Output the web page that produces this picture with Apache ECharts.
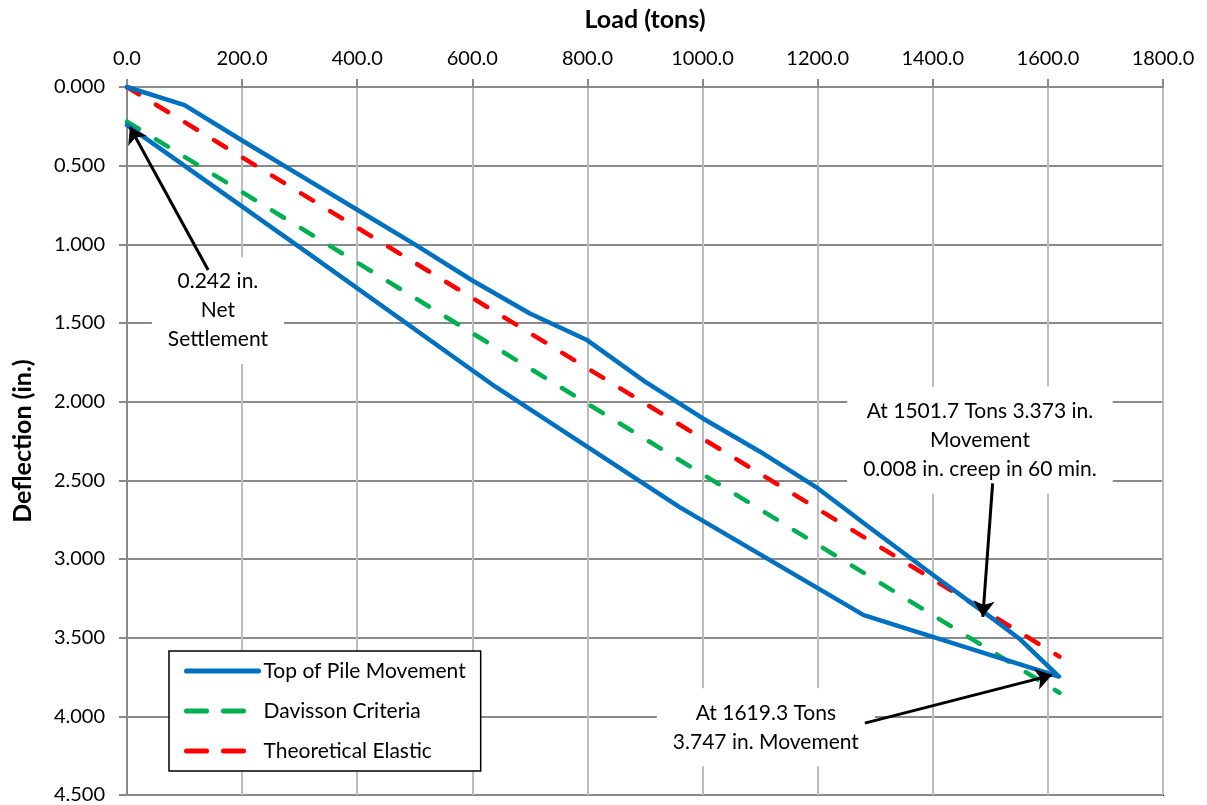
<!DOCTYPE html>
<html>
<head>
<meta charset="utf-8">
<script src="https://cdn.jsdelivr.net/npm/echarts@6/dist/echarts.min.js"></script>
<style>
  html, body { margin: 0; padding: 0; background: #fff; }
  #main { width: 1207px; height: 805px; }
</style>
</head>
<body>
<div id="main"></div>
<script>
// load (tons), deflection (in.) - loading then unloading
const pileLoad = [0, 100, 200, 300, 400, 500, 600, 700, 800, 900, 1000, 1100, 1200, 1300, 1400, 1501.7, 1550, 1619.3, 1280, 960, 640, 320, 0];
const pileDefl = [0, 0.115, 0.34, 0.56, 0.78, 1.0, 1.23, 1.44, 1.61, 1.873, 2.105, 2.318, 2.55, 2.827, 3.1, 3.373, 3.505, 3.747, 3.357, 2.67, 1.905, 1.07, 0.242];

const davissonLoad = [0, 1620];
const davissonDefl = [0.22, 3.85];

const elasticLoad = [0, 1620];
const elasticDefl = [0, 3.62];

const seriesNames = ['Top of Pile Movement', 'Davisson Criteria', 'Theoretical Elastic'];

// annotation texts and where they sit (data coords)
const noteTexts = ['0.242 in.\nNet\nSettlement', 'At 1501.7 Tons 3.373 in.\nMovement\n0.008 in. creep in 60 min.', 'At 1619.3 Tons\n3.747 in. Movement'];
const notePos = [[158, 1.42], [1482, 2.245], [1110, 4.07]];
const arrowFrom = [[141, 1.163], [1504, 2.52], [1282, 4.043]];
const arrowTo = [[5, 0.254], [1487, 3.368], [1607, 3.738]];

const zip = (a, b) => a.map((v, i) => [v, b[i]]);

const font = 'Lato, "Open Sans", sans-serif';
const dashed = [14, 20];

const chart = echarts.init(document.getElementById('main'));

chart.setOption({
  animation: false,
  textStyle: { fontFamily: font },
  grid: {
    left: 127, top: 87, right: 44, bottom: 10,
    outerBoundsMode: 'none', containLabel: false,
    show: true, borderColor: '#000', borderWidth: 2, backgroundColor: 'transparent'
  },
  xAxis: {
    type: 'value', position: 'top',
    min: 0, max: 1800, interval: 200,
    name: 'Load (tons)', nameLocation: 'middle', nameGap: 55, nameMoveOverlap: false,
    nameTextStyle: { fontFamily: font, fontWeight: 'bold', fontSize: 25, color: '#000' },
    axisLine: { show: true, lineStyle: { color: '#8a8a8a', width: 2 } },
    axisTick: { show: true, length: 8, lineStyle: { color: '#8a8a8a', width: 2 } },
    axisLabel: { margin: 18, fontSize: 20, color: '#000', formatter: v => v.toFixed(1) },
    splitLine: { show: true, lineStyle: { color: '#bdbdbd', width: 2 } }
  },
  yAxis: {
    type: 'value', inverse: true,
    min: 0, max: 4.5, interval: 0.5,
    name: 'Deflection (in.)', nameLocation: 'middle', nameGap: 92, nameRotate: 90, nameMoveOverlap: false,
    nameTextStyle: { fontFamily: font, fontWeight: 'bold', fontSize: 25, color: '#000' },
    axisLine: { show: true, lineStyle: { color: '#8a8a8a', width: 2 } },
    axisTick: { show: true, length: 8, lineStyle: { color: '#8a8a8a', width: 2 } },
    axisLabel: { margin: 22, fontSize: 20, color: '#000', showMinLabel: true, showMaxLabel: true, formatter: v => v.toFixed(3) },
    splitLine: { show: true, lineStyle: { color: '#8a8a8a', width: 2 } }
  },
  legend: {
    orient: 'vertical', left: 169, top: 651,
    backgroundColor: '#fff', borderColor: '#000', borderWidth: 1.5,
    padding: [9, 15, 9, 15],
    itemWidth: 72, itemHeight: 14, itemGap: 18,
    itemStyle: { opacity: 0 },
    textStyle: { fontFamily: font, fontSize: 21, color: '#000', lineHeight: 22 },
    data: [
      { name: seriesNames[0], lineStyle: { width: 5, cap: 'round' } },
      { name: seriesNames[1], lineStyle: { width: 5, type: [20, 17], cap: 'round' } },
      { name: seriesNames[2], lineStyle: { width: 5, type: [20, 17], cap: 'round' } }
    ]
  },
  series: [
    {
      type: 'scatter', z: 1, silent: true, symbolSize: 0,
      itemStyle: { opacity: 1 },
      data: notePos.map((p, i) => ({ value: p, label: { formatter: noteTexts[i] } })),
      label: {
        show: true, position: 'inside', color: '#000', fontFamily: font, fontSize: 21,
        lineHeight: 29, align: 'center', backgroundColor: '#fff', padding: [10, 16]
      }
    },
    {
      name: seriesNames[1], type: 'line', z: 2, symbol: 'none',
      data: zip(davissonLoad, davissonDefl),
      lineStyle: { color: '#00b050', width: 4.5, type: dashed, cap: 'round' },
      itemStyle: { color: '#00b050' }
    },
    {
      name: seriesNames[2], type: 'line', z: 2, symbol: 'none',
      data: zip(elasticLoad, elasticDefl),
      lineStyle: { color: '#ff0000', width: 4.5, type: dashed, cap: 'round' },
      itemStyle: { color: '#ff0000' }
    },
    {
      name: seriesNames[0], type: 'line', z: 3, symbol: 'none',
      data: zip(pileLoad, pileDefl),
      lineStyle: { color: '#0070c0', width: 4.5, cap: 'round', join: 'round' },
      itemStyle: { color: '#0070c0' }
    },
    {
      type: 'lines', coordinateSystem: 'cartesian2d', z: 4, silent: true,
      symbol: ['none', 'arrow'], symbolSize: 16,
      lineStyle: { color: '#000', width: 3, opacity: 1 },
      data: arrowFrom.map((p, i) => ({ coords: [p, arrowTo[i]] }))
    }
  ]
});
</script>
</body>
</html>
